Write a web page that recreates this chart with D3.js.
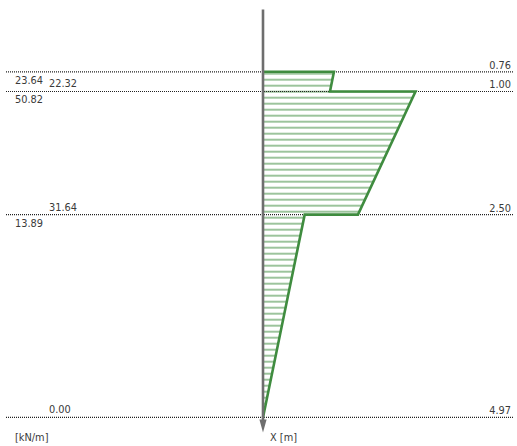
<!DOCTYPE html>
<html>
<head>
<meta charset="utf-8">
<script src="https://cdn.jsdelivr.net/npm/d3@7"></script>
<style>
  html, body { margin: 0; padding: 0; background: #fff; }
  svg text { font-family: "DejaVu Sans", sans-serif; font-size: 9.8px; fill: #3a3a3a; }
</style>
</head>
<body>
<svg id="chart" width="517" height="446"></svg>
<script>
// Distributed load along the member: each segment runs from a start depth to an end depth
const depthStart = [0.76, 1.00, 2.50];
const depthEnd   = [1.00, 2.50, 4.97];
const loadStart  = [23.64, 50.82, 13.89];
const loadEnd    = [22.32, 31.64, 0.00];
// Depth marks shown on the right
const depthTicks = [0.76, 1.00, 2.50, 4.97];
const unitLoad = "[kN/m]";
const unitDepth = "X [m]";

const svg = d3.select("#chart");

const y = d3.scaleLinear().domain([0, 4.97]).range([9.4, 417.4]);
const x = d3.scaleLinear().domain([0, 50.82]).range([263, 415.5]);

// Hatch pattern for the load area
const defs = svg.append("defs");
const pat = defs.append("pattern")
  .attr("id", "hatch")
  .attr("patternUnits", "userSpaceOnUse")
  .attr("x", 0).attr("y", 0.7)
  .attr("width", 10).attr("height", 6);
pat.append("rect")
  .attr("x", 0).attr("y", 0).attr("width", 10).attr("height", 2)
  .attr("fill", "#9cc49c");

// Polygon outline of the load diagram
const pts = [[0, depthStart[0]]];
depthStart.forEach((d, i) => {
  pts.push([loadStart[i], depthStart[i]]);
  pts.push([loadEnd[i], depthEnd[i]]);
});
const outlinePts = pts.map(p => [x(p[0]), y(p[1])]);
const areaPts = outlinePts.concat([[x(0), y(depthEnd[depthEnd.length - 1])]]);

svg.append("path")
  .attr("d", d3.line()(areaPts) + "Z")
  .attr("fill", "url(#hatch)")
  .attr("stroke", "none");

// Dotted depth guides
svg.selectAll("line.guide").data(depthTicks).enter().append("line")
  .attr("class", "guide")
  .attr("x1", 6).attr("x2", 513)
  .attr("y1", d => y(d)).attr("y2", d => y(d))
  .attr("stroke", "#222").attr("stroke-width", 1.2)
  .attr("stroke-dasharray", "1,1");

svg.append("path")
  .attr("d", d3.line()(outlinePts))
  .attr("fill", "none")
  .attr("stroke", "#3f8c3f")
  .attr("stroke-width", 2.6)
  .attr("stroke-linejoin", "miter");

// Member axis with arrow
const yBottom = y(depthEnd[depthEnd.length - 1]);
svg.append("line")
  .attr("x1", x(0)).attr("x2", x(0))
  .attr("y1", y(0)).attr("y2", yBottom + 4)
  .attr("stroke", "#6e6e6e").attr("stroke-width", 2.6);
svg.append("path")
  .attr("d", `M${x(0) - 3.6},${yBottom + 2} L${x(0) + 3.6},${yBottom + 2} L${x(0)},${yBottom + 15} Z`)
  .attr("fill", "#6e6e6e");

// Load value labels
depthStart.forEach((d, i) => {
  svg.append("text")
    .attr("x", 15).attr("y", y(d) + 12)
    .text(loadStart[i].toFixed(2));
  svg.append("text")
    .attr("x", 49).attr("y", y(depthEnd[i]) - 4)
    .text(loadEnd[i].toFixed(2));
});

// Depth labels on the right
svg.selectAll("text.depth").data(depthTicks).enter().append("text")
  .attr("class", "depth")
  .attr("x", 511).attr("y", d => y(d) - 3)
  .attr("text-anchor", "end")
  .text(d => d.toFixed(2));

svg.append("text").attr("x", 15).attr("y", 441).text(unitLoad);
svg.append("text").attr("x", 270).attr("y", 441).text(unitDepth);
</script>
</body>
</html>
